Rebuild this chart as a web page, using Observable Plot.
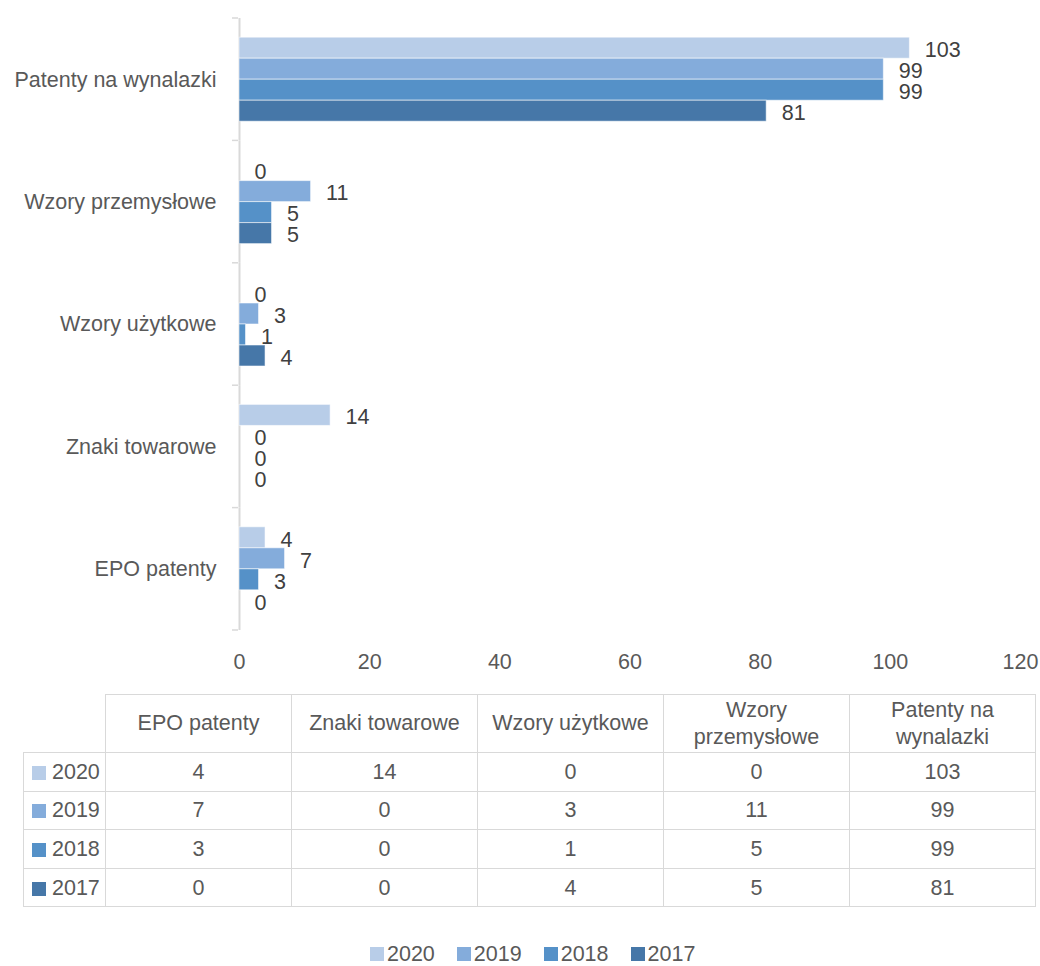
<!DOCTYPE html>
<html>
<head>
<meta charset="utf-8">
<script src="https://cdn.jsdelivr.net/npm/d3@7"></script>
<script src="https://cdn.jsdelivr.net/npm/@observablehq/plot@0.6"></script>
<style>
  body { margin: 0; background: #fff; font-family: "Liberation Sans", Arial, sans-serif; }
  #wrap { position: relative; width: 1040px; height: 966px; overflow: hidden; }
  #chart { position: absolute; left: 0; top: 0; }
  table { position: absolute; left: 23px; top: 694px; border-collapse: collapse; table-layout: fixed;
          font-size: 21.5px; color: #595959; }
  th, td { border: 1.5px solid #d9d9d9; text-align: center; font-weight: normal; padding: 0 4px; box-sizing: border-box; }
  th { height: 58px; line-height: 27px; }
  td { height: 38.6px; line-height: 24px; }
  th.corner { border-top: none; border-left: none; }
  td.rowhead { text-align: left; padding-left: 8px; white-space: nowrap; }
  .sw { display: inline-block; width: 14px; height: 14px; margin-right: 6px; vertical-align: -1px; }
  #legend { position: absolute; left: 370px; top: 942px; height: 24px; line-height: 24px; display: flex; align-items: center;
            font-size: 21.5px; color: #595959; }
  #legend .item { display: flex; align-items: center; margin-right: 22px; }
  #legend .sw { margin-right: 3px; vertical-align: 0; }
</style>
</head>
<body>
<div id="wrap">
  <div id="chart"></div>
  <table id="tbl"></table>
  <div id="legend"></div>
</div>
<script>
// ---- data ----
const tableCategories = ["EPO patenty", "Znaki towarowe", "Wzory użytkowe", "Wzory przemysłowe", "Patenty na wynalazki"];
const chartCategories = ["Patenty na wynalazki", "Wzory przemysłowe", "Wzory użytkowe", "Znaki towarowe", "EPO patenty"];
const years = ["2020", "2019", "2018", "2017"];
const values2020 = [4, 14, 0, 0, 103];
const values2019 = [7, 0, 3, 11, 99];
const values2018 = [3, 0, 1, 5, 99];
const values2017 = [0, 0, 4, 5, 81];
const xTicks = [0, 20, 40, 60, 80, 100, 120];
const colors = ["#B8CDE8", "#84ACDB", "#5591C8", "#4677A8"];

const seriesByYear = { "2020": values2020, "2019": values2019, "2018": values2018, "2017": values2017 };
const rows = years.flatMap(yr => tableCategories.map((c, j) => ({ category: c, year: yr, value: seriesByYear[yr][j] })));

const FONT = 21.5;
const chart = Plot.plot({
  width: 1040,
  height: 690,
  marginTop: 18,
  marginBottom: 60,
  marginLeft: 239,
  marginRight: 20,
  style: { fontFamily: '"Liberation Sans", Arial, sans-serif', fontSize: FONT + "px", background: "white" },
  x: { domain: [0, 120] },
  fy: { domain: chartCategories, padding: 0, round: false },
  y: { domain: years, paddingInner: 0, paddingOuter: 0.914, round: false, axis: null },
  color: { domain: years, range: colors },
  marks: [
    Plot.ruleX([0], { stroke: "#d9d9d9", strokeWidth: 2 }),
    Plot.barX(rows.filter(d => d.value > 0), {
      fy: "category", y: "year", x: "value", fill: "year",
      stroke: "white", strokeOpacity: 0.55, strokeWidth: 1
    }),
    Plot.text(rows, {
      fy: "category", y: "year", x: "value", text: d => String(d.value),
      dx: 15, dy: 2, textAnchor: "start", fill: "#404040", fontSize: FONT
    }),
    Plot.axisX({ ticks: xTicks, tickSize: 0, tickPadding: 23, label: null, fill: "#595959", fontSize: FONT, tickFormat: d => String(d) }),
    Plot.axisFy({ anchor: "left", tickSize: 0, tickPadding: 23, label: null, fill: "#595959", fontSize: FONT })
  ]
});

// tick marks at the category band boundaries (Excel style), from Plot's scales
const fyS = chart.scale("fy");
const xS = chart.scale("x");
const x0 = xS.apply(0);
const bounds = chartCategories.map(c => fyS.apply(c));
bounds.push(fyS.apply(chartCategories[chartCategories.length - 1]) + fyS.step);
d3.select(chart).append("g")
  .selectAll("line").data(bounds).join("line")
  .attr("x1", x0 - 7).attr("x2", x0 - 1)
  .attr("y1", d => d).attr("y2", d => d)
  .attr("stroke", "#d9d9d9").attr("stroke-width", 1.5);

document.getElementById("chart").appendChild(chart);

// ---- data table ----
const tbl = d3.select("#tbl");
const cg = tbl.append("colgroup");
cg.append("col").style("width", "82px");
tableCategories.forEach(() => cg.append("col").style("width", "186px"));
const hr = tbl.append("tr");
hr.append("th").attr("class", "corner");
tableCategories.forEach(c => hr.append("th").text(c));
years.forEach((yr, i) => {
  const tr = tbl.append("tr");
  const h = tr.append("td").attr("class", "rowhead");
  h.append("span").attr("class", "sw").style("background", colors[i]);
  h.append("span").text(yr);
  seriesByYear[yr].forEach(v => tr.append("td").text(v));
});

// ---- legend ----
const lg = d3.select("#legend");
years.forEach((yr, i) => {
  const it = lg.append("div").attr("class", "item");
  it.append("span").attr("class", "sw").style("background", colors[i]);
  it.append("span").text(yr);
});
</script>
</body>
</html>
